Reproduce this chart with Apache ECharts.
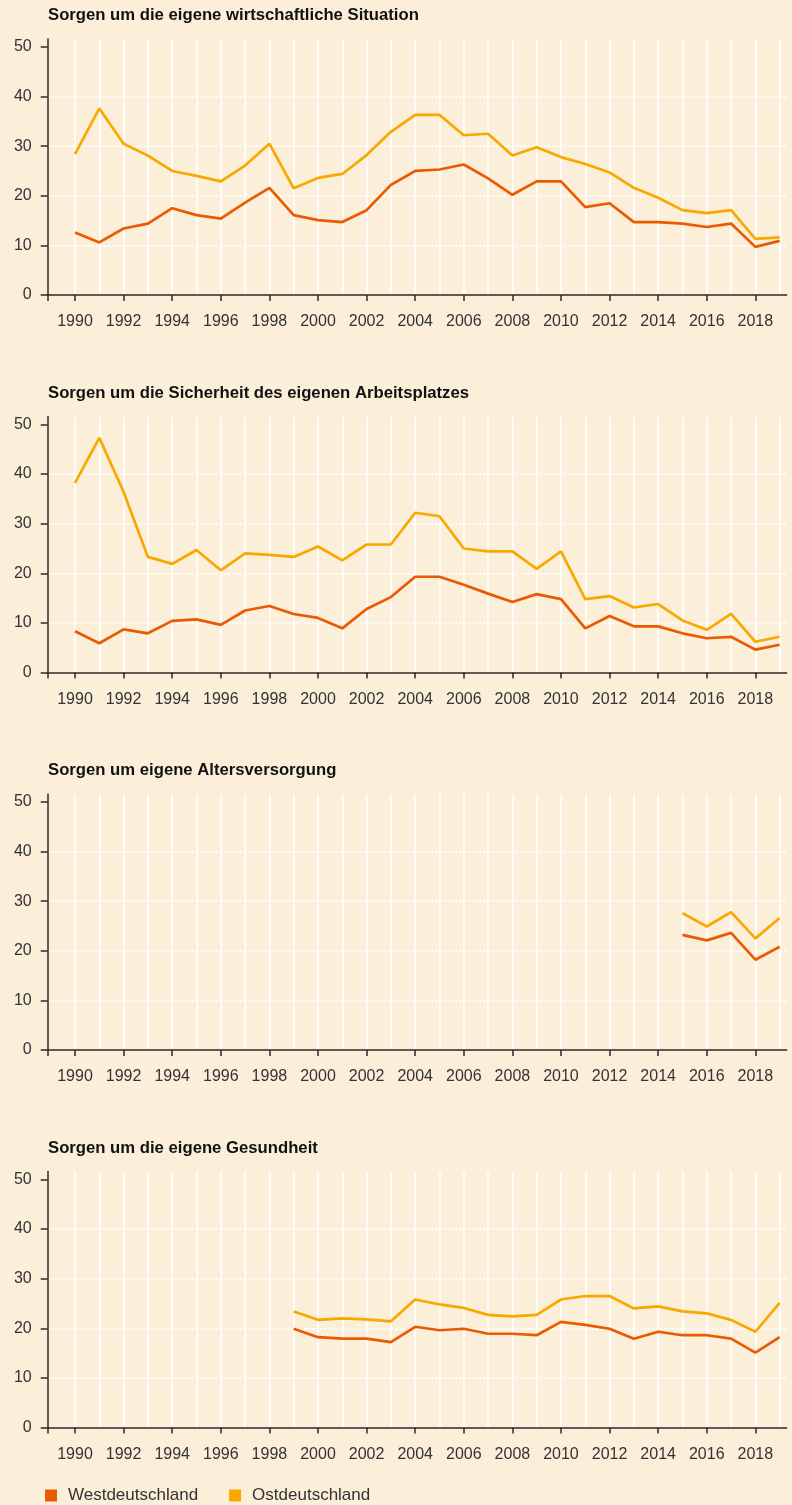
<!DOCTYPE html>
<html>
<head>
<meta charset="utf-8">
<script src="https://cdn.jsdelivr.net/npm/echarts@6/dist/echarts.min.js"></script>
<style>
    html, body { margin: 0; padding: 0; background: #FBEFDA; }
    #chart { width: 792px; height: 1505px; }
</style>
</head>
<body>
<div id="chart"></div>
<script>
// #region Data
const years = [1990, 1991, 1992, 1993, 1994, 1995, 1996, 1997, 1998, 1999,
    2000, 2001, 2002, 2003, 2004, 2005, 2006, 2007, 2008, 2009,
    2010, 2011, 2012, 2013, 2014, 2015, 2016, 2017, 2018, 2019];

const yearLabels = [1990, 1992, 1994, 1996, 1998, 2000, 2002, 2004,
    2006, 2008, 2010, 2012, 2014, 2016, 2018];

const valueTicks = [0, 10, 20, 30, 40, 50];

const panelTitles = [
    "Sorgen um die eigene wirtschaftliche Situation",
    "Sorgen um die Sicherheit des eigenen Arbeitsplatzes",
    "Sorgen um eigene Altersversorgung",
    "Sorgen um die eigene Gesundheit"
];

const seriesNames = ["Westdeutschland", "Ostdeutschland"];

const westWirtschaft = [12.6, 10.6, 13.4, 14.4, 17.5, 16.1, 15.4, 18.6, 21.6, 16.1,
    15.1, 14.7, 17.1, 22.2, 25.0, 25.3, 26.3, 23.5, 20.2, 22.9,
    22.9, 17.7, 18.5, 14.7, 14.7, 14.4, 13.7, 14.4, 9.7, 10.9];
const ostWirtschaft = [28.4, 37.6, 30.5, 28.1, 25.0, 24.0, 22.9, 26.1, 30.5, 21.5,
    23.6, 24.4, 28.2, 32.9, 36.3, 36.3, 32.2, 32.5, 28.1, 29.8,
    27.8, 26.4, 24.7, 21.6, 19.6, 17.1, 16.5, 17.1, 11.3, 11.6];

const westArbeit = [8.3, 5.9, 8.7, 7.9, 10.4, 10.7, 9.6, 12.5, 13.4, 11.8,
    11.0, 8.9, 12.8, 15.2, 19.3, 19.3, 17.7, 15.9, 14.2, 15.8,
    14.8, 8.9, 11.4, 9.3, 9.3, 7.9, 6.9, 7.2, 4.6, 5.6];
const ostArbeit = [38.2, 47.3, 36.4, 23.3, 21.9, 24.7, 20.6, 24.0, 23.7, 23.3,
    25.4, 22.6, 25.8, 25.8, 32.2, 31.5, 25.0, 24.4, 24.4, 20.9,
    24.4, 14.8, 15.4, 13.1, 13.8, 10.5, 8.6, 11.8, 6.2, 7.2];

const westAlter = [null, null, null, null, null, null, null, null, null, null,
    null, null, null, null, null, null, null, null, null, null,
    null, null, null, null, null, 23.2, 22.1, 23.6, 18.2, 20.8];
const ostAlter = [null, null, null, null, null, null, null, null, null, null,
    null, null, null, null, null, null, null, null, null, null,
    null, null, null, null, null, 27.6, 24.9, 27.8, 22.5, 26.6];

const westGesundheit = [null, null, null, null, null, null, null, null, null, 19.9,
    18.2, 17.9, 17.9, 17.2, 20.3, 19.6, 19.9, 18.9, 18.9, 18.6,
    21.3, 20.7, 19.9, 17.9, 19.3, 18.6, 18.6, 17.9, 15.1, 18.2];
const ostGesundheit = [null, null, null, null, null, null, null, null, null, 23.4,
    21.7, 22.0, 21.8, 21.4, 25.8, 24.8, 24.1, 22.7, 22.4, 22.7,
    25.8, 26.5, 26.5, 24.0, 24.4, 23.4, 23.0, 21.7, 19.3, 25.1];

const panelData = [
    [westWirtschaft, ostWirtschaft],
    [westArbeit, ostArbeit],
    [westAlter, ostAlter],
    [westGesundheit, ostGesundheit]
];
// #endregion

// #region Style
const FONT = "Liberation Sans";
const WEST = "#EB5A00";
const OST = "#F9A800";
const AXIS = "#2B2B2B";
const TEXT = "#333333";

const PANEL_STEP = 377.5;
const GRID_TOP = 39;
const GRID_HEIGHT = 256;
const X_MIN = 1988.876;
const X_MAX = 2019.29;
const Y_MAX = 51.6;
// #endregion

const toPairs = (vals) => years
    .map((yr, i) => [yr, vals[i]])
    .filter(p => p[1] !== null);

const chart = echarts.init(document.getElementById("chart"), null, { renderer: "canvas" });

const titles = [], grids = [], xAxes = [], yAxes = [], series = [];

panelTitles.forEach((txt, i) => {
    titles.push({
        text: txt,
        left: 48,
        top: 7 + PANEL_STEP * i,
        padding: 0,
        textStyle: { fontFamily: FONT, fontSize: 16.7, fontWeight: "bold", color: "#111" }
    });

    grids.push({
        left: 47.7,
        right: 5.3,
        top: GRID_TOP + PANEL_STEP * i,
        height: GRID_HEIGHT
    });

    xAxes.push({
        type: "value",
        gridIndex: i,
        z: 2,
        min: X_MIN,
        max: X_MAX,
        axisLine: { show: true, onZero: false, lineStyle: { color: AXIS, width: 1.5 } },
        axisTick: {
            show: true, length: 6,
            customValues: [X_MIN].concat(yearLabels),
            lineStyle: { color: AXIS, width: 1.5 }
        },
        axisLabel: {
            customValues: yearLabels,
            formatter: v => String(v),
            margin: 19,
            fontFamily: FONT, fontSize: 16, color: TEXT
        },
        splitLine: { show: false }
    });

    yAxes.push({
        type: "value",
        gridIndex: i,
        z: 2,
        min: 0,
        max: Y_MAX,
        interval: 10,
        axisLine: { show: true, lineStyle: { color: AXIS, width: 1.5 } },
        axisTick: {
            show: true, length: 7,
            customValues: valueTicks,
            lineStyle: { color: AXIS, width: 1.5 }
        },
        axisLabel: {
            customValues: valueTicks,
            margin: 16,
            fontFamily: FONT, fontSize: 16, color: TEXT
        },
        splitLine: {
            show: true,
            showMinLine: false,
            showMaxLine: false,
            lineStyle: { color: "#FFFFFF", width: 1.8, type: [2, 2] }
        }
    });

    panelData[i].forEach((vals, k) => {
        const s = {
            name: seriesNames[k],
            type: "line",
            xAxisIndex: i,
            yAxisIndex: i,
            data: toPairs(vals),
            showSymbol: false,
            symbol: "none",
            z: 3 + k,
            itemStyle: { color: k === 0 ? WEST : OST },
            lineStyle: { color: k === 0 ? WEST : OST, width: 2.7 }
        };
        // vertical year lines
        if (k === 0) {
            s.markLine = {
                silent: true,
                z: 1,
                symbol: ["none", "none"],
                label: { show: false },
                lineStyle: { color: "#FFFFFF", width: 1.6, type: "solid" },
                emphasis: { disabled: true },
                data: years.map(yr => ({ xAxis: yr }))
            };
        }
        series.push(s);
    });
});

chart.setOption({
    animation: false,
    backgroundColor: "#FBEFDA",
    title: titles,
    grid: grids,
    xAxis: xAxes,
    yAxis: yAxes,
    legend: {
        data: seriesNames,
        left: 45,
        top: 1487,
        padding: 0,
        icon: "rect",
        itemWidth: 12,
        itemHeight: 12,
        itemGap: 31,
        textStyle: { fontFamily: FONT, fontSize: 17, color: TEXT, padding: [0, 0, 0, 6] }
    },
    series: series
});
</script>
</body>
</html>
